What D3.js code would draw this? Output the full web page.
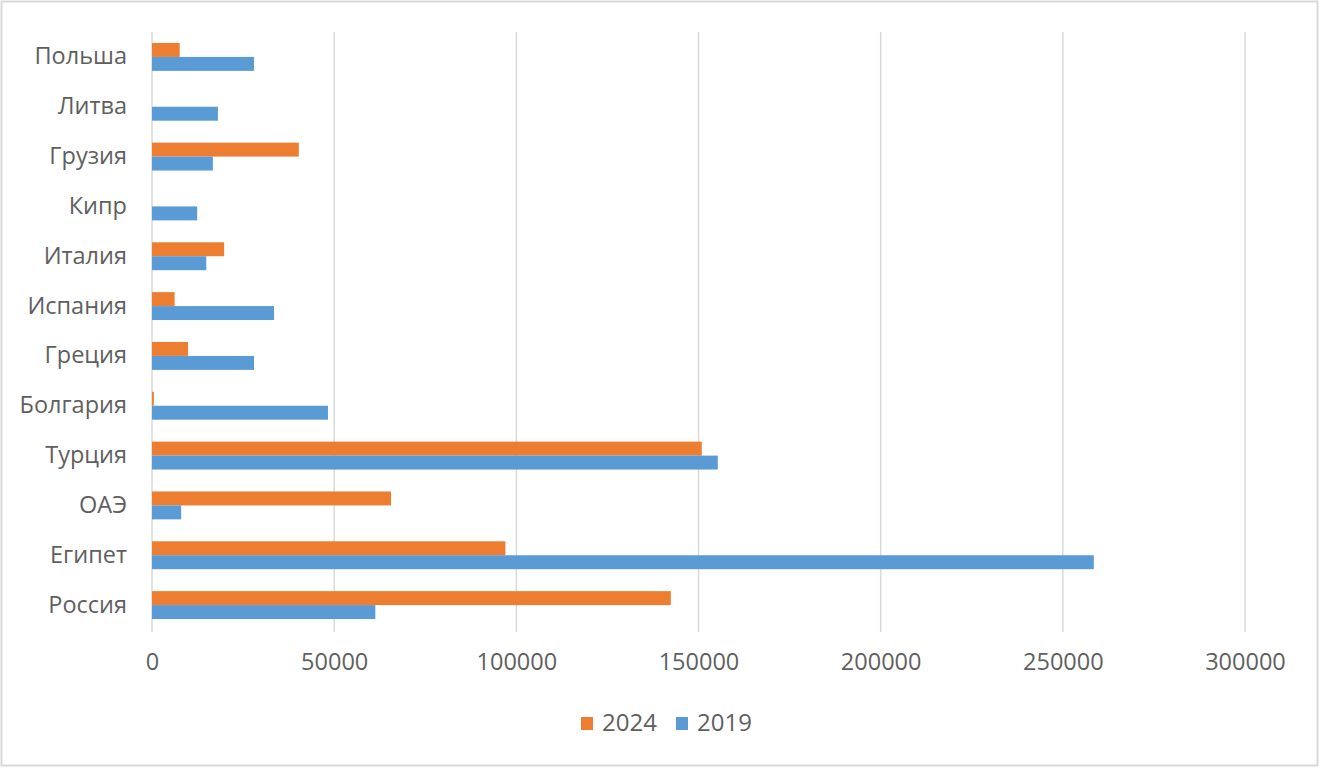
<!DOCTYPE html>
<html>
<head>
<meta charset="utf-8">
<script src="https://cdn.jsdelivr.net/npm/d3@7"></script>
<style>
  html, body { margin: 0; padding: 0; background: #fff; }
  svg { display: block; }
  text { font-family: "Open Sans", "Noto Sans", sans-serif; fill: #5f5f5f; }
</style>
</head>
<body>
<svg id="chart" width="1320" height="768"></svg>
<script>
const categories = ["Польша", "Литва", "Грузия", "Кипр", "Италия", "Испания", "Греция", "Болгария", "Турция", "ОАЭ", "Египет", "Россия"];
const seriesNames = ["2024", "2019"];
const values2024 = [7600, 0, 40300, 0, 19800, 6200, 9900, 500, 150900, 65600, 97000, 142400];
const values2019 = [28000, 18100, 16700, 12400, 14900, 33500, 28000, 48300, 155300, 8000, 258500, 61300];
const xTicks = [0, 50000, 100000, 150000, 200000, 250000, 300000];
const colors = ["#ED7D31", "#5B9BD5"];

const svg = d3.select("#chart");
const W = 1320, H = 768;

// outer frame
svg.append("rect").attr("x", 1.5).attr("y", 1.5).attr("width", W - 4).attr("height", H - 4)
  .attr("fill", "#fff").attr("stroke", "#d9d9d9").attr("stroke-width", 2);

const plotLeft = 152, plotRight = 1245, plotTop = 32, plotBottom = 630;

const x = d3.scaleLinear().domain([0, 300000]).range([plotLeft, plotRight]);
const y0 = d3.scaleBand().domain(categories).range([plotTop, plotBottom]).paddingInner(0.44).paddingOuter(0.22);
const y1 = d3.scaleBand().domain(seriesNames).range([0, y0.bandwidth()]);

// gridlines
svg.append("g").selectAll("line").data(xTicks).join("line")
  .attr("x1", d => x(d)).attr("x2", d => x(d))
  .attr("y1", plotTop).attr("y2", plotBottom + 2)
  .attr("stroke", "#d9d9d9").attr("stroke-width", 1.5);

// bars
const rows = categories.map((c, i) => ({ c, v: [values2024[i], values2019[i]] }));
const g = svg.append("g");
rows.forEach(r => {
  seriesNames.forEach((s, j) => {
    if (r.v[j] <= 0) return;
    g.append("rect")
      .attr("x", x(0))
      .attr("y", y0(r.c) + y1(s))
      .attr("width", x(r.v[j]) - x(0))
      .attr("height", y1.bandwidth())
      .attr("fill", colors[j]);
  });
});

// category axis labels
const yAxis = d3.axisLeft(y0).tickSize(0).tickPadding(25);
const ya = svg.append("g").attr("transform", `translate(${plotLeft},0)`).call(yAxis);
ya.select(".domain").remove();
ya.selectAll("text").style("font-size", "23.5px").style("font-family", '"Open Sans", sans-serif').attr("fill", "#5f5f5f");

// value axis
const xAxis = d3.axisBottom(x).tickValues(xTicks).tickSize(0).tickPadding(23).tickFormat(d3.format("d"));
const xa = svg.append("g").attr("transform", `translate(0,${plotBottom})`).call(xAxis);
xa.select(".domain").remove();
xa.selectAll("text").style("font-size", "23.5px").style("font-family", '"Open Sans", sans-serif').attr("fill", "#5f5f5f");

// legend
const legend = svg.append("g").attr("transform", "translate(581,723)");
const legendItems = [{ name: "2024", color: colors[0], dx: 0 }, { name: "2019", color: colors[1], dx: 95 }];
legendItems.forEach(it => {
  const lg = legend.append("g").attr("transform", `translate(${it.dx},0)`);
  lg.append("rect").attr("x", 0).attr("y", -6).attr("width", 12).attr("height", 13).attr("fill", it.color);
  lg.append("text").attr("x", 21).attr("y", 0).attr("dy", "0.35em").style("font-size", "24px").text(it.name);
});
</script>
</body>
</html>
